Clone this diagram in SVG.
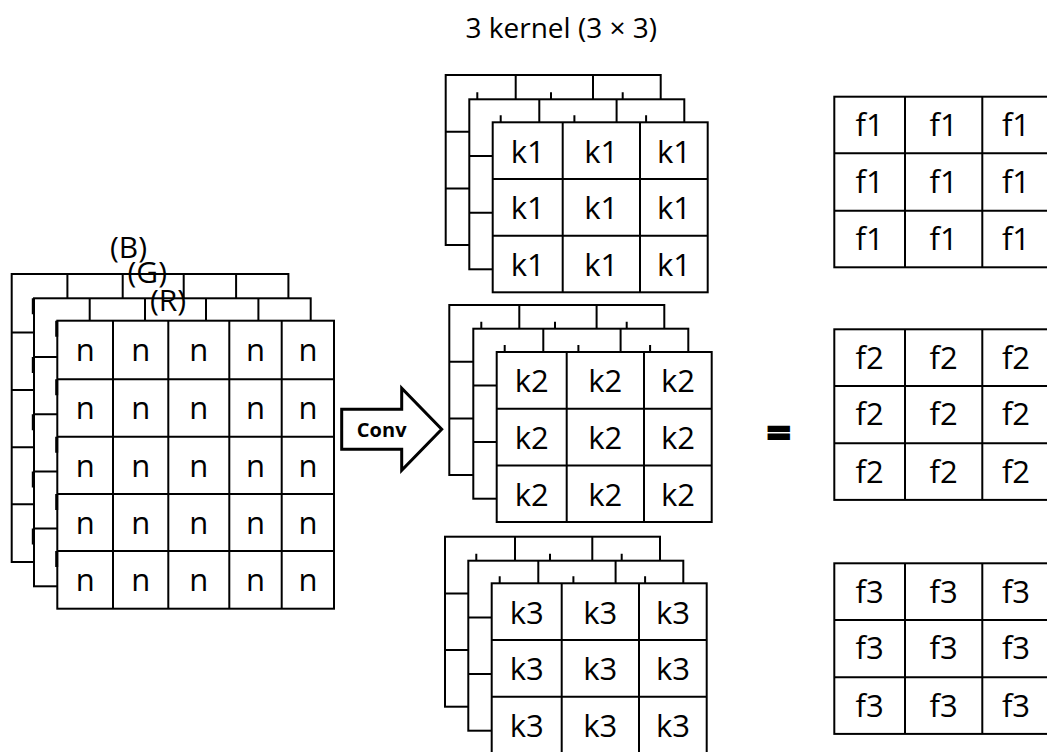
<svg xmlns="http://www.w3.org/2000/svg" xmlns:xlink="http://www.w3.org/1999/xlink" width="1047" height="752" viewBox="0 0 1047 752">
  <style>
    .grid { fill: #ffffff; stroke: #000000; stroke-width: 2; }
    .line { fill: none; stroke: #000000; stroke-width: 2; }
    .mark { fill: none; stroke: #000000; stroke-width: 3; }
    .cell { font-family: "Open Sans", "Noto Sans", sans-serif; font-size: 31px; fill: #000000; text-anchor: middle; }
    .label { font-family: "Open Sans", "Noto Sans", sans-serif; font-size: 30px; fill: #000000; }
    .title { font-family: "Open Sans", "Noto Sans", sans-serif; font-size: 28px; fill: #000000; }
    .conv { font-family: "Open Sans", "Noto Sans", sans-serif; font-size: 20px; font-weight: 700; fill: #000000; text-anchor: middle; }
    .eq { font-family: "Open Sans", "Noto Sans", sans-serif; font-size: 42px; font-weight: 700; fill: #000000; stroke: #000000; stroke-width: 2; text-anchor: middle; }
  </style>
  <defs>
    <!-- one 5x5 input channel -->
    <g id="chan">
      <rect class="grid" x="0" y="0" width="276.7" height="288"/>
      <path class="line" d="M55.7 0V288M111 0V288M172 0V288M224.4 0V288M0 58.6H276.7M0 116H276.7M0 173.3H276.7M0 230.3H276.7"/>
    </g>
    <!-- thick marks on the left edge of a channel, one per row -->
    <path id="chanMarks" class="mark" d="M0 0v16M0 58.6v16M0 116v16M0 173.3v16M0 230.3v16"/>
    <!-- one 3x3 kernel layer -->
    <g id="kern">
      <rect class="grid" x="0" y="0" width="215" height="170"/>
      <path class="line" d="M70 0V170M147.3 0V170M0 56.7H215M0 113.4H215"/>
    </g>
    <!-- small ticks above a kernel layer -->
    <path id="kernTicks" class="line" d="M8 0v-7M81.7 0v-7M153.4 0v-7"/>
    <!-- one 3x3 feature map -->
    <g id="fmap">
      <rect class="grid" x="834.3" y="0" width="216" height="170.6"/>
      <path class="line" d="M905 0V170.6M982.3 0V170.6M834.3 56.6H1050.3M834.3 114H1050.3"/>
    </g>
  </defs>

  <g id="title">
    <text class="title" x="657" y="38" text-anchor="end">3 kernel (3 × 3)</text>
  </g>

  <!-- input image: B, G and R channels -->
  <g id="input">
    <use xlink:href="#chan" x="11.7" y="274"/>
    <use xlink:href="#chan" x="34" y="298.3"/>
    <use xlink:href="#chanMarks" x="33.3" y="298.3"/>
    <use xlink:href="#chan" x="57.3" y="320.7"/>
    <use xlink:href="#chanMarks" x="56.7" y="320.7"/>
    <text class="label" x="110" y="258">(B)</text>
    <text class="label" x="127.5" y="283">(G)</text>
    <text class="label" x="150" y="311">(R)</text>
    <g class="cell">
      <text x="85.2" y="360.7">n</text><text x="140.7" y="360.7">n</text><text x="198.8" y="360.7">n</text><text x="255.5" y="360.7">n</text><text x="307.9" y="360.7">n</text>
      <text x="85.2" y="419.3">n</text><text x="140.7" y="419.3">n</text><text x="198.8" y="419.3">n</text><text x="255.5" y="419.3">n</text><text x="307.9" y="419.3">n</text>
      <text x="85.2" y="476.7">n</text><text x="140.7" y="476.7">n</text><text x="198.8" y="476.7">n</text><text x="255.5" y="476.7">n</text><text x="307.9" y="476.7">n</text>
      <text x="85.2" y="534">n</text><text x="140.7" y="534">n</text><text x="198.8" y="534">n</text><text x="255.5" y="534">n</text><text x="307.9" y="534">n</text>
      <text x="85.2" y="591">n</text><text x="140.7" y="591">n</text><text x="198.8" y="591">n</text><text x="255.5" y="591">n</text><text x="307.9" y="591">n</text>
    </g>
  </g>

  <!-- kernel 1 -->
  <g id="kernel1">
    <use xlink:href="#kern" x="445.7" y="75"/>
    <use xlink:href="#kern" x="469.3" y="99.3"/>
    <use xlink:href="#kernTicks" x="469.3" y="99.3"/>
    <use xlink:href="#kern" x="492.7" y="122.3"/>
    <use xlink:href="#kernTicks" x="492.7" y="122.3"/>
    <g class="cell">
      <text x="527.7" y="162.7">k1</text><text x="601.3" y="162.7">k1</text><text x="674" y="162.7">k1</text>
      <text x="527.7" y="219.4">k1</text><text x="601.3" y="219.4">k1</text><text x="674" y="219.4">k1</text>
      <text x="527.7" y="276.1">k1</text><text x="601.3" y="276.1">k1</text><text x="674" y="276.1">k1</text>
    </g>
  </g>

  <!-- kernel 2 -->
  <g id="kernel2">
    <use xlink:href="#kern" x="449.3" y="305"/>
    <use xlink:href="#kern" x="473.3" y="328.7"/>
    <use xlink:href="#kernTicks" x="473.3" y="328.7"/>
    <use xlink:href="#kern" x="496.7" y="352"/>
    <use xlink:href="#kernTicks" x="496.7" y="352"/>
    <g class="cell">
      <text x="531.7" y="392.4">k2</text><text x="605.3" y="392.4">k2</text><text x="678" y="392.4">k2</text>
      <text x="531.7" y="449.1">k2</text><text x="605.3" y="449.1">k2</text><text x="678" y="449.1">k2</text>
      <text x="531.7" y="505.8">k2</text><text x="605.3" y="505.8">k2</text><text x="678" y="505.8">k2</text>
    </g>
  </g>

  <!-- kernel 3 -->
  <g id="kernel3">
    <use xlink:href="#kern" x="445" y="536.7"/>
    <use xlink:href="#kern" x="468.3" y="560.7"/>
    <use xlink:href="#kernTicks" x="468.3" y="560.7"/>
    <use xlink:href="#kern" x="491.7" y="583.3"/>
    <use xlink:href="#kernTicks" x="491.7" y="583.3"/>
    <g class="cell">
      <text x="526.7" y="623.7">k3</text><text x="600.3" y="623.7">k3</text><text x="673" y="623.7">k3</text>
      <text x="526.7" y="680.4">k3</text><text x="600.3" y="680.4">k3</text><text x="673" y="680.4">k3</text>
      <text x="526.7" y="737.1">k3</text><text x="600.3" y="737.1">k3</text><text x="673" y="737.1">k3</text>
    </g>
  </g>

  <g id="equals">
    <text class="eq" x="778.8" y="447">=</text>
  </g>

  <!-- feature maps -->
  <g id="fmap1">
    <use xlink:href="#fmap" y="96.7"/>
    <g class="cell">
      <text x="869.7" y="136.2">f1</text><text x="943.7" y="136.2">f1</text><text x="1016" y="136.2">f1</text>
      <text x="869.7" y="192.8">f1</text><text x="943.7" y="192.8">f1</text><text x="1016" y="192.8">f1</text>
      <text x="869.7" y="250.2">f1</text><text x="943.7" y="250.2">f1</text><text x="1016" y="250.2">f1</text>
    </g>
  </g>
  <g id="fmap2">
    <use xlink:href="#fmap" y="329.3"/>
    <g class="cell">
      <text x="869.7" y="368.8">f2</text><text x="943.7" y="368.8">f2</text><text x="1016" y="368.8">f2</text>
      <text x="869.7" y="425.4">f2</text><text x="943.7" y="425.4">f2</text><text x="1016" y="425.4">f2</text>
      <text x="869.7" y="482.8">f2</text><text x="943.7" y="482.8">f2</text><text x="1016" y="482.8">f2</text>
    </g>
  </g>
  <g id="fmap3">
    <use xlink:href="#fmap" y="563.3"/>
    <g class="cell">
      <text x="869.7" y="602.8">f3</text><text x="943.7" y="602.8">f3</text><text x="1016" y="602.8">f3</text>
      <text x="869.7" y="659.4">f3</text><text x="943.7" y="659.4">f3</text><text x="1016" y="659.4">f3</text>
      <text x="869.7" y="716.8">f3</text><text x="943.7" y="716.8">f3</text><text x="1016" y="716.8">f3</text>
    </g>
  </g>

  <!-- convolution arrow -->
  <g id="connectors">
    <polygon points="341.7,409.3 401.7,409.3 401.7,388.3 441.7,429.3 401.7,470.3 401.7,449.3 341.7,449.3" fill="#ffffff" stroke="#000000" stroke-width="3" stroke-linejoin="miter"/>
    <text class="conv" x="381.7" y="436.7">Conv</text>
  </g>
</svg>
